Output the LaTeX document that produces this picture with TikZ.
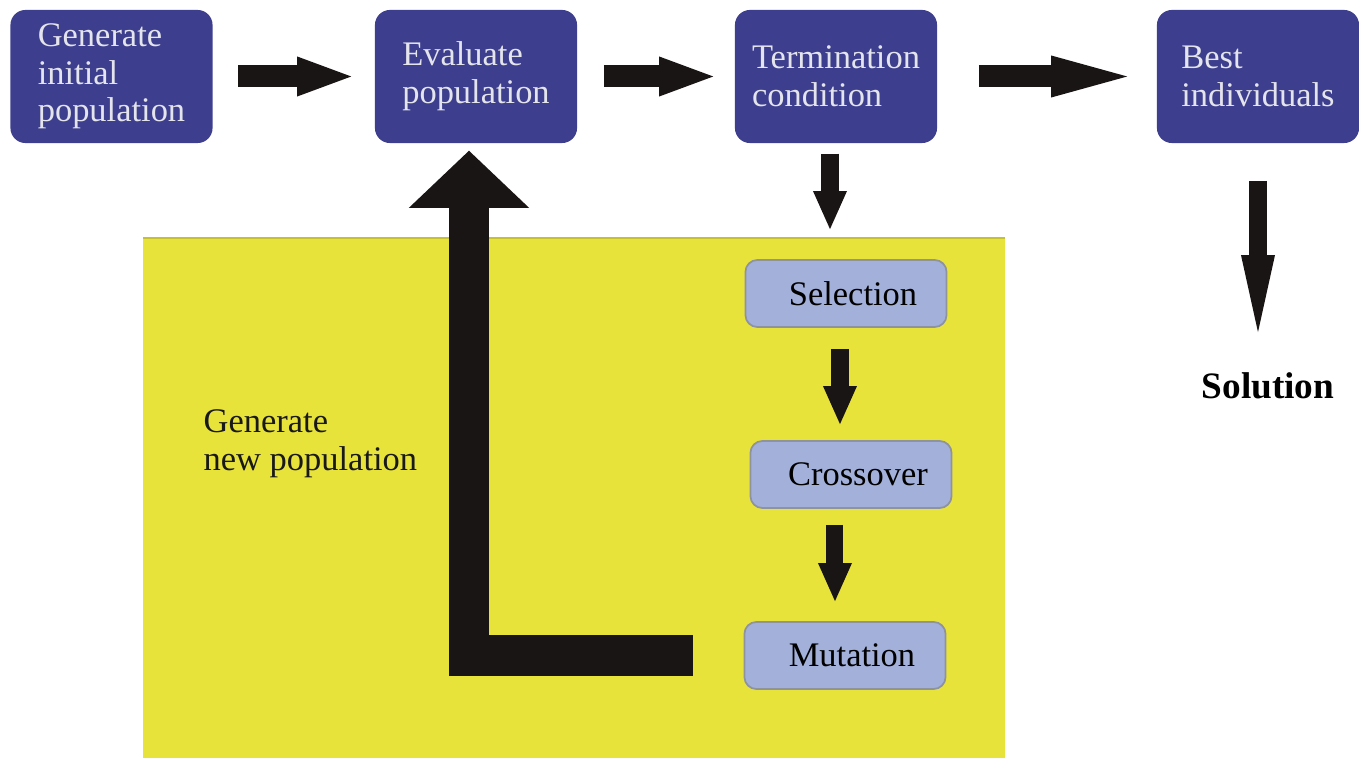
\documentclass[tikz,border=0pt]{standalone}
\usepackage{fontspec}
\setmainfont{Liberation Serif}
\usetikzlibrary{arrows.meta}

\definecolor{boxblue}{HTML}{3D3F8E}
\definecolor{boxtext}{HTML}{E4E4EC}
\definecolor{stepblue}{HTML}{A3B1DA}
\definecolor{stepline}{HTML}{8E939E}
\definecolor{panelyellow}{HTML}{E8E33A}
\definecolor{arrowblack}{HTML}{1A1515}

\begin{document}
\begin{tikzpicture}
  [x=0.01cm,y=-0.01cm,
   every node/.style={font=\fontsize{9.8}{10.7}\selectfont,inner sep=0pt},
   darkbox/.style={rectangle,rounded corners=0.15cm,fill=boxblue,text=boxtext,align=left,minimum width=2.02cm,minimum height=1.33cm},
   lightbox/.style={rectangle,rounded corners=0.12cm,fill=stepblue,draw=stepline,line width=0.5pt,minimum width=2.01cm,minimum height=0.67cm},
   flowarrow/.style={draw=arrowblack,line width=0.22cm,-{Triangle[length=0.54cm,width=0.40cm,line width=0pt]}},
   steparrow/.style={draw=arrowblack,line width=0.17cm,-{Triangle[length=0.38cm,width=0.34cm,line width=0pt]}},
   looparrow/.style={draw=arrowblack,line width=0.40cm,-{Triangle[length=0.57cm,width=1.20cm,line width=0pt]}}]
  \useasboundingbox (0,0) rectangle (1359,758);

  % yellow panel
  \fill[panelyellow] (143,238) rectangle (1005,758);
  \draw[panelyellow!85!black,line width=0.4pt] (143,238) -- (1005,238);

  \node[darkbox] (init) at (111.5,76.5) {Generate\\initial\\population};
  \node[darkbox] (eval) at (476,76.5) {Evaluate\\population};
  \node[darkbox] (term) at (836,76.5) {Termination\\condition};
  \node[darkbox] (best) at (1258,76.5) {Best\\individuals};
  \node[lightbox] (sel) at (846,293.5) {\hspace{0.14cm}Selection};
  \node[lightbox] (cross) at (851,474.5) {\hspace{0.14cm}Crossover};
  \node[lightbox] (mut) at (845,655.5) {\hspace{0.14cm}Mutation};
  \node[anchor=west,align=left,text=black!90] (newpop) at (203,443.5) {Generate\\new population};
  \node[font=\fontsize{10.6}{12}\selectfont\bfseries] (sol) at (1268,386) {Solution};

  \foreach \from/\to/\s/\e in {init/eval/0.25/0.23,eval/term/0.26/0.21}
    \draw[flowarrow,shorten <=\s cm,shorten >=\e cm] (\from) -- (\to);
  \draw[flowarrow,shorten <=0.41cm,shorten >=0.29cm,-{Triangle[length=0.76cm,width=0.42cm,line width=0pt]}] (term) -- (best);

  \foreach \from/\to/\dx/\s/\e in {term/sel/-0.06/0.10/0.30,sel/cross/-0.06/0.21/0.16,cross/mut/-0.16/0.16/0.20}
    \draw[steparrow,shorten <=\s cm,shorten >=\e cm] ([xshift=\dx cm]\from.south) -- ([xshift=\dx cm]\from.south |- \to.north);
  \draw[steparrow,shorten <=0.37cm,shorten >=0.40cm,-{Triangle[length=0.77cm,width=0.34cm,line width=0pt]}] (best.south) -- (best.south |- sol.north);

  \draw[looparrow,shorten <=0.51cm,shorten >=0.07cm] (mut.west) -| ([xshift=-0.07cm]eval.south);

\end{tikzpicture}
\end{document}
